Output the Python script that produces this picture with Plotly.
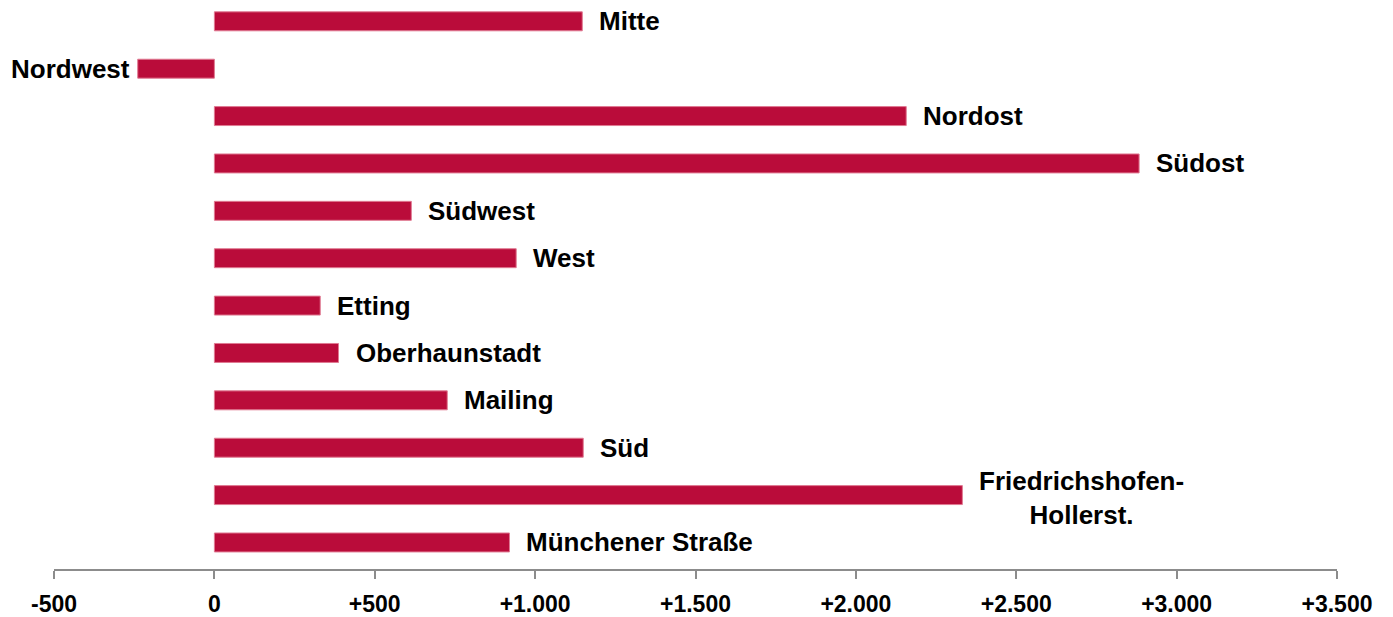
import plotly.graph_objects as go

districts = ["Mitte", "Nordwest", "Nordost", "Südost", "Südwest", "West", "Etting",
             "Oberhaunstadt", "Mailing", "Süd", "Friedrichshofen-<br>Hollerst.",
             "Münchener Straße"]
change = [1147, -239, 2157, 2883, 614, 941, 330, 387, 726, 1150, 2332, 920]

tick_vals = [-500, 0, 500, 1000, 1500, 2000, 2500, 3000, 3500]
tick_text = ["-500", "0", "+500", "+1.000", "+1.500", "+2.000", "+2.500", "+3.000", "+3.500"]

red = "#BA0C3A"
font = "Liberation Sans, Arial, sans-serif"

fig = go.Figure(go.Bar(
    x=change, y=districts, orientation="h",
    marker=dict(color=red, line=dict(color="#E07A92", width=1)),
    width=0.4, hoverinfo="skip"))

# labels next to the bar ends
for name, v in zip(districts, change):
    two_lines = "<br>" in name
    fig.add_annotation(
        x=v, y=name, text="<b>%s</b>" % name, showarrow=False,
        xanchor="left" if v >= 0 else "right",
        xshift=15 if v >= 0 else -6,
        yshift=-3 if two_lines else 0,
        align="center",
        font=dict(family=font, size=26, color="black"))

fig.update_xaxes(
    range=[-500, 3500], tickvals=tick_vals, ticktext=["<b>%s</b>" % t for t in tick_text],
    showgrid=False, zeroline=False, showline=True, linecolor="#8c8c8c", linewidth=2,
    ticks="outside", ticklen=8, tickwidth=2, tickcolor="#8c8c8c",
    tickfont=dict(family=font, size=23, color="black"), ticklabelstandoff=5)
fig.update_yaxes(
    range=[11.56, -0.45], showticklabels=False, showgrid=False, zeroline=False,
    showline=False, ticks="")

fig.update_layout(
    width=1393, height=617,
    margin=dict(l=54, r=56, t=0, b=43),
    plot_bgcolor="white", paper_bgcolor="white",
    showlegend=False)

fig.write_html("out.html", config={"displayModeBar": False},
               post_script="document.body.style.margin='0';")
